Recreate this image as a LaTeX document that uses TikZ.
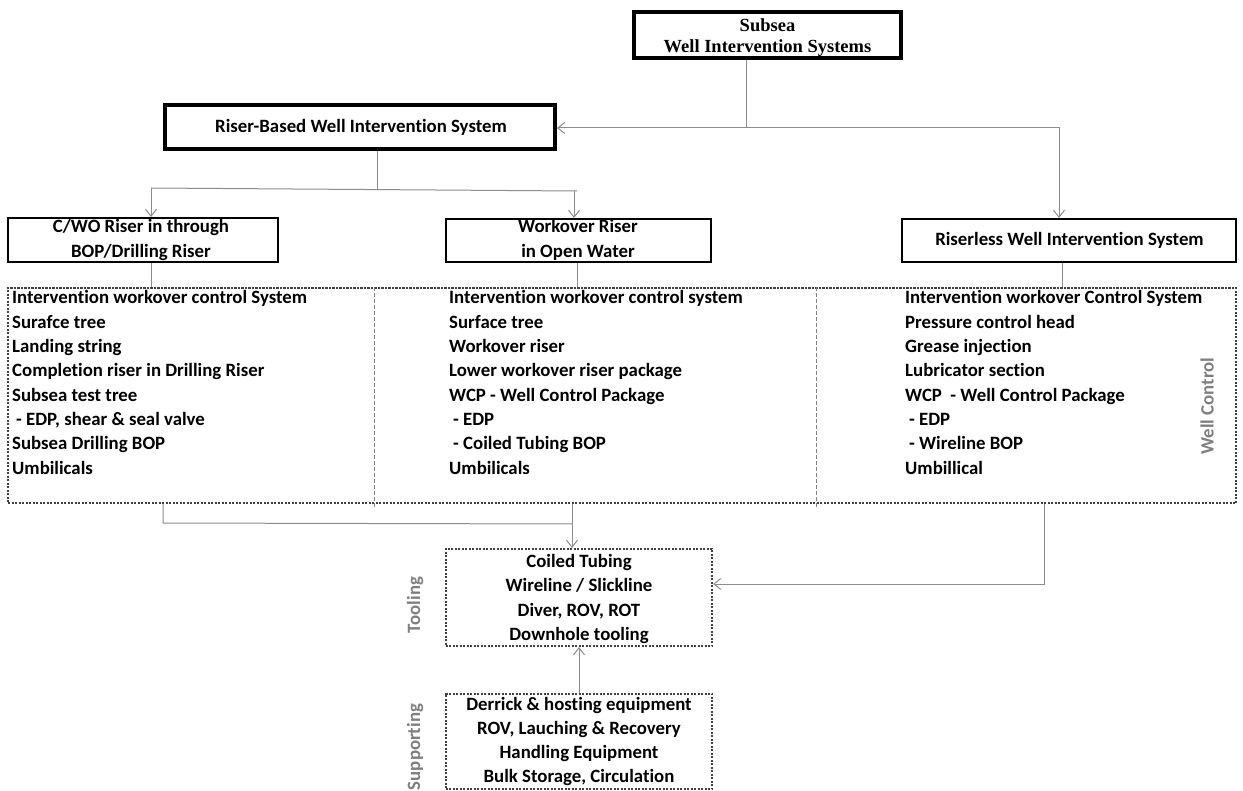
\documentclass[tikz,border=0pt]{standalone}
\usepackage{fontspec}
\setmainfont{Carlito}[Ligatures={NoCommon}]
\newfontfamily\serifhead{Liberation Serif}
\usetikzlibrary{arrows.meta}
\definecolor{linkgray}{HTML}{8C8C8C}
\definecolor{dotgray}{HTML}{404040}
\definecolor{labelgray}{HTML}{7F7F7F}
\begin{document}
\begin{tikzpicture}[x=1pt,y=-1pt,
  txt/.style={inner sep=0pt, font=\fontsize{18.8}{20}\selectfont\bfseries, anchor=base},
  txtl/.style={txt, anchor=base west},
  headtxt/.style={txt, font=\fontsize{18.5}{20}\selectfont\serifhead\bfseries},
  heavybox/.style={draw, line width=4pt, inner sep=0pt},
  plainbox/.style={draw, line width=2pt, inner sep=0pt},
  dotbox/.style={draw=dotgray, line width=1.6pt, dash pattern=on 2.2pt off 1.3pt, inner sep=0pt},
  divider/.style={draw=gray, line width=0.8pt, dash pattern=on 4pt off 2pt},
  link/.style={draw=linkgray, line width=1pt},
  arr/.style={link, -{Straight Barb[length=7pt, width=11pt]}},
  sidelabel/.style={txt, text=labelgray, rotate=90, anchor=center}]

\fill[white] (0,0) rectangle (1243,791);
\useasboundingbox (0,0) rectangle (1243,791);

% ---- top level ----
\node[heavybox, minimum width=267pt, minimum height=46pt] (top) at (767.5,35) {};
\node[headtxt] (top1) at (767.5,32) {Subsea};
\node[headtxt] (top2) at (767.5,53) {Well Intervention Systems};

% ---- riser-based branch ----
\node[heavybox, minimum width=390pt, minimum height=44pt] (rb) at (360,127) {};
\node[txt] (rbt) at (361,133) {Riser-Based Well Intervention System};

% ---- second level boxes ----
\node[plainbox, minimum width=270pt, minimum height=44pt] (cwo) at (143,240) {};
\node[txt] (cwo1) at (141,233) {C/WO Riser in through};
\node[txt] (cwo2) at (141,258) {BOP/Drilling Riser};

\node[plainbox, minimum width=265pt, minimum height=43pt] (wo) at (578.5,240.5) {};
\node[txt] (wo1) at (578,233) {Workover Riser};
\node[txt] (wo2) at (578,258) {in Open Water};

\node[plainbox, minimum width=334pt, minimum height=43pt] (rl) at (1069,240.5) {};
\node[txt] (rlt) at (1069.5,246) {Riserless Well Intervention System};

% ---- equipment panel ----
\node[dotbox, minimum width=1228pt, minimum height=215.5pt] (panel) at (622,395.5) {};
\coordinate (d1) at (374,508);
\coordinate (d2) at (816,508);
\draw[divider] (d1 |- panel.north) -- (d1);
\draw[divider] (d2 |- panel.north) -- (d2);

\foreach \t [count=\i] in {Intervention workover control System, Surafce tree, Landing string,
    Completion riser in Drilling Riser, Subsea test tree, {\hspace{4pt}- EDP, shear \& seal valve},
    Subsea Drilling BOP, Umbilicals}
  \node[txtl] (ca\i) at (12,{304+24.3*(\i-1)}) {\t};

\foreach \t [count=\i] in {Intervention workover control system, Surface tree, Workover riser,
    Lower workover riser package, WCP - Well Control Package, {\hspace{4pt}- EDP},
    {\hspace{4pt}- Coiled Tubing BOP}, Umbilicals}
  \node[txtl] (cb\i) at (449,{304+24.3*(\i-1)}) {\t};

\foreach \t [count=\i] in {Intervention workover Control System, Pressure control head, Grease injection,
    Lubricator section, {WCP\ \ - Well Control Package}, {\hspace{4pt}- EDP},
    {\hspace{4pt}- Wireline BOP}, Umbillical}
  \node[txtl] (cc\i) at (905,{304+24.3*(\i-1)}) {\t};

\node[sidelabel] (wc) at (1207,406) {Well Control};

% ---- tooling and support ----
\node[dotbox, minimum width=266.5pt, minimum height=97.5pt] (tool) at (579,597.5) {};
\foreach \t [count=\i] in {Coiled Tubing, Wireline / Slickline, {Diver, ROV, ROT}, Downhole tooling}
  \node[txt] (ta\i) at (579,{567+24.5*(\i-1)}) {\t};
\node[sidelabel] (tl) at (415,605) {Tooling};

\node[dotbox, minimum width=266.5pt, minimum height=95.5pt] (supp) at (579,741.5) {};
\foreach \t [count=\i] in {Derrick \& hosting equipment, {ROV, Lauching \& Recovery}, Handling Equipment, {Bulk Storage, Circulation}}
  \node[txt] (sa\i) at (579,{710+24.3*(\i-1)}) {\t};
\node[sidelabel] (sl) at (415,747) {Supporting};

% ---- connectors ----
\coordinate (j0) at (746,128);
\coordinate (j1) at (1059,128);
\draw[link] (top.south -| j0) -- (j0);
\draw[arr] (j0) -- (rb.east |- j0);
\draw[arr] (j0) -- (j1) -- (j1 |- rl.north);

\coordinate (j2) at (377,189);
\coordinate (j3) at (151,188);
\coordinate (j4) at (577,191);
\coordinate (j5) at (574,191);
\draw[link] (rb.south -| j2) -- (j2);
\draw[link] (j3) -- (j4);
\draw[arr] (j3) -- (j3 |- cwo.north);
\draw[arr] (j5) -- (j5 |- wo.north);

\coordinate (k1) at (151,0);
\coordinate (k2) at (577,0);
\coordinate (k3) at (1062,0);
\draw[link] (k1 |- cwo.south) -- (k1 |- panel.north);
\draw[link] (k2 |- wo.south) -- (k2 |- panel.north);
\draw[link] (k3 |- rl.south) -- (k3 |- panel.north);

\coordinate (m1) at (163,523);
\coordinate (m2) at (572,524);
\coordinate (m3) at (1044,584);
\draw[link] (m1 |- panel.south) -- (m1) -- (m2);
\draw[arr] (m2 |- panel.south) -- (m2 |- tool.north);
\draw[arr] (m3 |- panel.south) -- (m3) -- (tool.east |- m3);

\coordinate (m4) at (579,0);
\draw[arr] (m4 |- supp.north) -- (m4 |- tool.south);
\end{tikzpicture}
\end{document}
